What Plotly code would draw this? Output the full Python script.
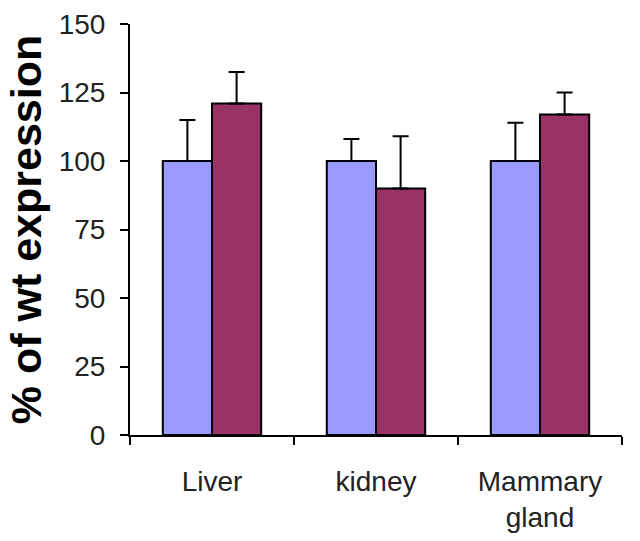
import plotly.graph_objects as go

# Tissues and expression relative to wild type (%)
tissues = ["Liver", "kidney", "Mammary<br>gland"]
wt_values = [100, 100, 100]
wt_err = [15, 8, 14]
mut_values = [121, 90, 117]
mut_err = [11.5, 19, 8]

y_ticks = [0, 25, 50, 75, 100, 125, 150]

fig = go.Figure()
fig.add_trace(go.Bar(
    x=tissues, y=wt_values, name="wt",
    marker=dict(color="#9999FF", line=dict(color="black", width=2)),
    error_y=dict(type="data", array=wt_err, symmetric=False, arrayminus=[0, 0, 0],
                 color="black", thickness=2, width=8),
))
fig.add_trace(go.Bar(
    x=tissues, y=mut_values, name="mutant",
    marker=dict(color="#993366", line=dict(color="black", width=2)),
    error_y=dict(type="data", array=mut_err, symmetric=False, arrayminus=[0, 0, 0],
                 color="black", thickness=2, width=8),
))

fig.update_layout(
    width=640, height=541,
    margin=dict(l=130, r=18, t=24, b=106),
    paper_bgcolor="white", plot_bgcolor="white",
    barmode="group", bargap=0.4, bargroupgap=0,
    showlegend=False,
    font=dict(family="Liberation Sans, Arial, sans-serif", color="#222"),
)
fig.update_xaxes(
    type="category", range=[-0.5, 2.5], automargin=False,
    showline=True, linecolor="black", linewidth=2,
    ticks="outside", tickson="boundaries", ticklen=8, tickwidth=2, tickcolor="black",
    tickfont=dict(size=28, color="#222"), ticklabelstandoff=20,
    showgrid=False, zeroline=False,
)
fig.update_yaxes(
    range=[0, 150], tickvals=y_ticks, automargin=False,
    showline=True, linecolor="black", linewidth=2,
    ticks="outside", ticklen=8, tickwidth=2, tickcolor="black",
    tickfont=dict(size=28, color="#222"), ticklabelstandoff=9,
    showgrid=False, zeroline=False,
    title=dict(text="<b>% of wt expression</b>", font=dict(size=43, color="black"), standoff=4),
)

fig.write_html("out.html")
